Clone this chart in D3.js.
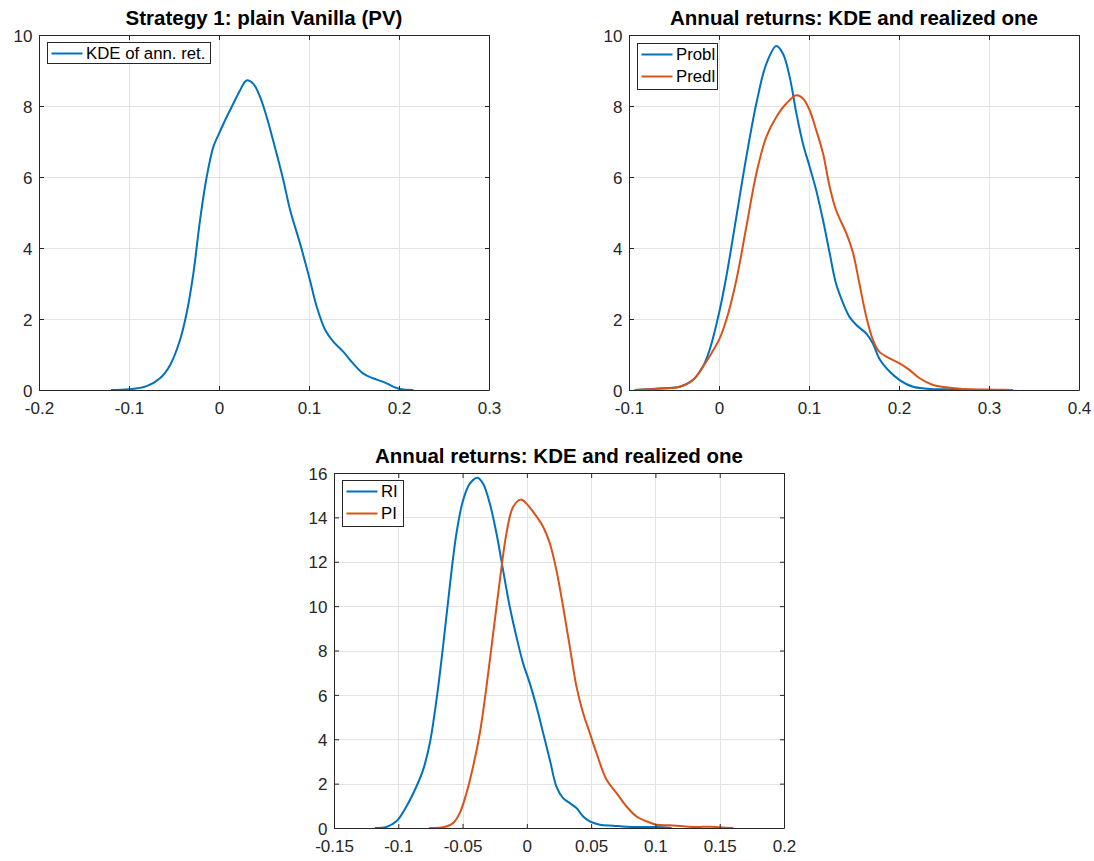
<!DOCTYPE html>
<html>
<head>
<meta charset="utf-8">
<script src="https://cdn.jsdelivr.net/npm/d3@7"></script>
<style>
  html, body { margin: 0; padding: 0; background: #ffffff; }
  svg { display: block; font-family: "Liberation Sans", Arial, sans-serif; }
</style>
</head>
<body>
<svg id="chart" width="1094" height="861"></svg>
<script>
// ---------------- DATA ----------------
const titles = ["Strategy 1: plain Vanilla (PV)", "Annual returns: KDE and realized one", "Annual returns: KDE and realized one"];

// Panel 1: KDE of annual returns
const pvX = [-0.12, -0.1, -0.0804, -0.0656, -0.0544, -0.0433, -0.036, -0.0285, -0.0211, -0.0137, -0.0063, 0, 0.0085, 0.016, 0.0233, 0.0307, 0.038, 0.0456, 0.053, 0.06, 0.0715, 0.079, 0.09, 0.101, 0.1085, 0.118, 0.127, 0.138, 0.149, 0.16, 0.171, 0.1826, 0.194, 0.201, 0.216];
const pvY = [0, 0.02, 0.11, 0.33, 0.70, 1.41, 2.16, 3.28, 4.78, 6.0, 6.85, 7.22, 7.69, 8.07, 8.44, 8.72, 8.63, 8.26, 7.69, 7.04, 5.91, 5.07, 4.13, 3.10, 2.35, 1.69, 1.36, 1.08, 0.75, 0.47, 0.33, 0.23, 0.09, 0.03, 0];

// Panel 2: Probl and Predl
const problX = [-0.0937, -0.062, -0.0437, -0.029, -0.0178, -0.0104, 0, 0.0081, 0.0193, 0.0304, 0.0415, 0.0526, 0.0637, 0.0711, 0.0785, 0.086, 0.0933, 0.1007, 0.108, 0.1156, 0.123, 0.130, 0.138, 0.145, 0.1526, 0.1637, 0.171, 0.178, 0.1896, 0.2007, 0.2156, 0.234, 0.2526, 0.29];
const problY = [0, 0.05, 0.09, 0.28, 0.66, 1.13, 2.16, 3.19, 4.88, 6.57, 8.07, 9.19, 9.69, 9.47, 8.82, 7.79, 6.94, 6.29, 5.63, 4.78, 3.85, 3.0, 2.44, 2.06, 1.83, 1.59, 1.31, 0.89, 0.52, 0.28, 0.09, 0.03, 0.02, 0];
const predlX = [-0.0937, -0.062, -0.0437, -0.029, -0.0178, -0.0085, 0, 0.0081, 0.0193, 0.0304, 0.0415, 0.0526, 0.0637, 0.0748, 0.086, 0.0933, 0.1007, 0.108, 0.1156, 0.123, 0.130, 0.1415, 0.149, 0.156, 0.1637, 0.171, 0.178, 0.1896, 0.2007, 0.2119, 0.223, 0.2378, 0.2526, 0.271, 0.308, 0.3267];
const predlY = [0, 0.04, 0.09, 0.28, 0.66, 1.03, 1.41, 1.97, 3.10, 4.60, 6.10, 7.13, 7.69, 8.07, 8.30, 8.21, 7.88, 7.32, 6.66, 5.72, 5.07, 4.41, 3.85, 3.0, 2.06, 1.41, 1.08, 0.89, 0.75, 0.56, 0.33, 0.14, 0.075, 0.03, 0.01, 0];

// Panel 3: RI and PI
const riX = [-0.1183, -0.1093, -0.1015, -0.0937, -0.0859, -0.0807, -0.0755, -0.0703, -0.0652, -0.06, -0.0548, -0.0496, -0.0444, -0.0384, -0.034, -0.0288, -0.0236, -0.0185, -0.0133, -0.0081, -0.0029, 0.0023, 0.0075, 0.0127, 0.0179, 0.023, 0.0282, 0.0334, 0.0386, 0.0438, 0.049, 0.0568, 0.0672, 0.0775, 0.0905, 0.1009, 0.1126];
const riY = [0, 0.045, 0.30, 0.97, 1.87, 2.62, 3.82, 5.77, 8.17, 10.87, 13.27, 14.77, 15.52, 15.79, 15.52, 14.62, 13.27, 11.62, 9.97, 8.62, 7.42, 6.52, 5.47, 4.27, 3.07, 1.87, 1.35, 1.12, 0.90, 0.52, 0.30, 0.15, 0.105, 0.06, 0.045, 0.045, 0];
const piX = [-0.076, -0.0652, -0.0574, -0.0522, -0.047, -0.0418, -0.0366, -0.0314, -0.0262, -0.021, -0.0159, -0.0107, -0.0047, -0.0003, 0.0049, 0.0127, 0.0179, 0.023, 0.0282, 0.0334, 0.0386, 0.0438, 0.049, 0.0542, 0.062, 0.0698, 0.0775, 0.0853, 0.0931, 0.1009, 0.1113, 0.1216, 0.132, 0.1424, 0.1502, 0.1606];
const piY = [0, 0.03, 0.22, 0.67, 1.57, 2.77, 4.27, 6.37, 8.77, 11.17, 13.27, 14.47, 14.80, 14.62, 14.25, 13.57, 12.82, 11.62, 9.97, 8.17, 6.37, 5.17, 4.27, 3.37, 2.17, 1.57, 0.97, 0.52, 0.30, 0.15, 0.12, 0.075, 0.045, 0.06, 0.03, 0];

// Tick values
const xTicks1 = [-0.2, -0.1, 0, 0.1, 0.2, 0.3];
const xTicks2 = [-0.1, 0, 0.1, 0.2, 0.3, 0.4];
const xTicks3 = [-0.15, -0.1, -0.05, 0, 0.05, 0.1, 0.15, 0.2];
const yTicks1 = [0, 2, 4, 6, 8, 10];
const yTicks3 = [0, 2, 4, 6, 8, 10, 12, 14, 16];

// Series names
const legend1 = ["KDE of ann. ret."];
const legend2 = ["Probl", "Predl"];
const legend3 = ["RI", "PI"];

// ---------------- STYLE / LAYOUT ----------------
const BLUE = "#0072BD", ORANGE = "#D95319";
const AXIS = "#262626", GRID = "#e3e3e3";
const TICK_FS = 17, TITLE_FS = 20.5, LEG_FS = 16.8;

const zip = (xs, ys) => xs.map((x, i) => ({x, y: ys[i]}));

const panels = [
  {left: 39, right: 489, top: 35, bottom: 390, xd: [-0.2, 0.3], yd: [0, 10], xt: xTicks1, yt: yTicks1,
   title: titles[0], series: [{d: zip(pvX, pvY), c: BLUE}], legend: legend1,
   leg: {x: 47, y: 42, w: 163}},
  {left: 629, right: 1079, top: 35, bottom: 390, xd: [-0.1, 0.4], yd: [0, 10], xt: xTicks2, yt: yTicks1,
   title: titles[1], series: [{d: zip(problX, problY), c: BLUE}, {d: zip(predlX, predlY), c: ORANGE}], legend: legend2,
   leg: {x: 637, y: 43, w: 80}},
  {left: 334, right: 784, top: 473, bottom: 828, xd: [-0.15, 0.2], yd: [0, 16], xt: xTicks3, yt: yTicks3,
   title: titles[2], series: [{d: zip(riX, riY), c: BLUE}, {d: zip(piX, piY), c: ORANGE}], legend: legend3,
   leg: {x: 342, y: 480, w: 61}}
];

const svg = d3.select("#chart");

panels.forEach(p => {
  const x = d3.scaleLinear().domain(p.xd).range([p.left, p.right]);
  const y = d3.scaleLinear().domain(p.yd).range([p.bottom, p.top]);
  const g = svg.append("g");
  const tl = 4.5;

  // grid
  g.append("g").selectAll("line").data(p.xt.slice(1, -1)).join("line")
    .attr("x1", d => Math.round(x(d)) + 0.5).attr("x2", d => Math.round(x(d)) + 0.5)
    .attr("y1", p.top).attr("y2", p.bottom)
    .attr("stroke", GRID).attr("stroke-width", 1);
  g.append("g").selectAll("line").data(p.yt.slice(1, -1)).join("line")
    .attr("y1", d => Math.round(y(d)) + 0.5).attr("y2", d => Math.round(y(d)) + 0.5)
    .attr("x1", p.left).attr("x2", p.right)
    .attr("stroke", GRID).attr("stroke-width", 1);

  // curves
  const line = d3.line().x(d => x(d.x)).y(d => y(d.y)).curve(d3.curveCatmullRom.alpha(0.5));
  p.series.forEach(s => {
    g.append("path").datum(s.d).attr("d", line)
      .attr("fill", "none").attr("stroke", s.c).attr("stroke-width", 2)
      .attr("stroke-linejoin", "round").attr("stroke-linecap", "butt");
  });

  // axes via d3 axis generators (inner ticks, MATLAB style)
  const fmt = d => (d === 0 ? "0" : String(+d.toFixed(3)));
  const bottomAx = d3.axisBottom(x).tickValues(p.xt).tickSize(-tl).tickFormat(fmt);
  const topAx = d3.axisTop(x).tickValues(p.xt).tickSize(-tl).tickFormat("");
  const leftAx = d3.axisLeft(y).tickValues(p.yt).tickSize(-tl).tickFormat(d3.format("d"));
  const rightAx = d3.axisRight(y).tickValues(p.yt).tickSize(-tl).tickFormat("");

  const style = sel => {
    sel.select(".domain").attr("stroke", AXIS).attr("stroke-width", 1);
    sel.selectAll(".tick line").attr("stroke", AXIS).attr("stroke-width", 1);
    sel.selectAll(".tick text").attr("fill", AXIS).attr("font-size", TICK_FS)
      .attr("font-family", "'Liberation Sans', Arial, sans-serif");
  };
  const gb = g.append("g").attr("transform", `translate(0,${p.bottom + 0.5})`).call(bottomAx).call(style);
  gb.select(".domain").attr("d", `M${p.left},0H${p.right}`);
  gb.selectAll(".tick text").attr("dy", "0.71em").attr("y", 11);
  const gt = g.append("g").attr("transform", `translate(0,${p.top + 0.5})`).call(topAx).call(style);
  gt.select(".domain").attr("d", `M${p.left},0H${p.right}`);
  const gl = g.append("g").attr("transform", `translate(${p.left + 0.5},0)`).call(leftAx).call(style);
  gl.select(".domain").attr("d", `M0,${p.top}V${p.bottom}`);
  gl.selectAll(".tick text").attr("x", -7).attr("dy", "0.36em");
  const gr = g.append("g").attr("transform", `translate(${p.right + 0.5},0)`).call(rightAx).call(style);
  gr.select(".domain").attr("d", `M0,${p.top}V${p.bottom}`);

  // title
  g.append("text").attr("x", (p.left + p.right) / 2).attr("y", p.top - 10)
    .attr("text-anchor", "middle").attr("font-weight", "bold").attr("font-size", TITLE_FS)
    .attr("fill", "#000").text(p.title);

  // legend
  const rowH = 22;
  const lg = g.append("g");
  lg.append("rect").attr("x", p.leg.x + 0.5).attr("y", p.leg.y + 0.5)
    .attr("width", p.leg.w).attr("height", rowH * p.legend.length - 1 + (p.legend.length > 1 ? 3 : 0))
    .attr("fill", "#fff").attr("stroke", AXIS).attr("stroke-width", 1);
  p.legend.forEach((name, i) => {
    const cy = p.leg.y + 11.5 + i * rowH;
    lg.append("line").attr("x1", p.leg.x + 4.5).attr("x2", p.leg.x + 35.5)
      .attr("y1", cy).attr("y2", cy).attr("stroke", p.series[i].c).attr("stroke-width", 2);
    lg.append("text").attr("x", p.leg.x + 39).attr("y", cy).attr("dy", "0.35em")
      .attr("font-size", LEG_FS).attr("fill", "#000").text(name);
  });
});
</script>
</body>
</html>
